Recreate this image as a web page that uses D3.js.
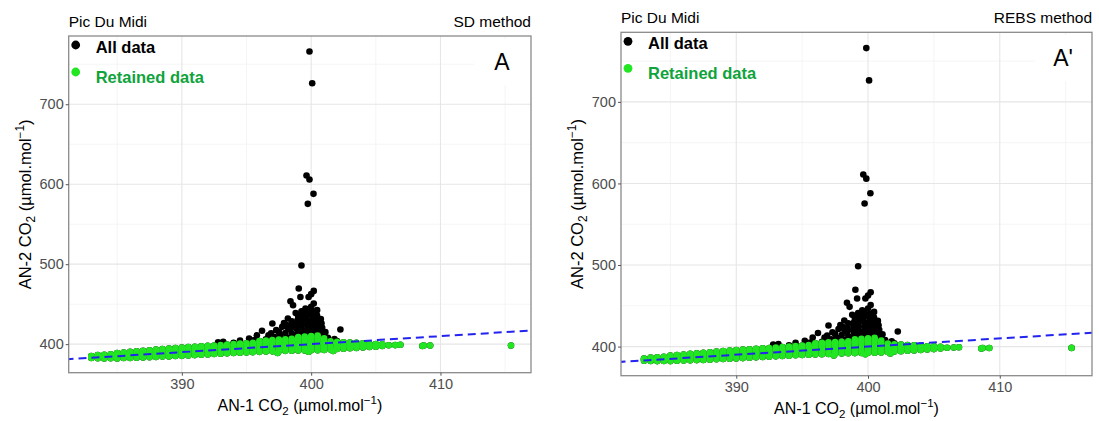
<!DOCTYPE html>
<html>
<head>
<meta charset="utf-8">
<script src="https://cdn.jsdelivr.net/npm/d3@7"></script>
<style>
  body { margin: 0; background: #fff; }
  svg { font-family: "Liberation Sans", Arial, sans-serif; }
</style>
</head>
<body>
<svg id="chart" width="1099" height="421"></svg>
<script>
// ---- data ----
const xTicks = [390, 400, 410];
const yTicks = [400, 500, 600, 700];
const xMinor = [385, 395, 405, 415];
const yMinor = [450, 550, 650, 750];
const xDomain = [381.25, 417.0];
const yDomain = [364.3, 785.3];
const refLine = [380, 418];   // 1:1 line, x = y

// points flagged out (black only)
const flaggedPts = [
  // outliers
  [399.87,765.9],[400.08,726.3],[399.64,610.9],[399.87,605.9],[400.18,587.9],[399.74,575.4],[399.25,498.4],
  // upper spine
  [399.04,469.6],[400.2,466.6],[400.0,462.5],[399.17,459.0],[399.8,459.0],[398.4,453.7],[400.2,450.9],
  [398.6,448.7],[400.0,446.7],[399.56,444.5],[400.46,442.5],[399.3,440.4],[398.8,439.0],[398.2,432.0],
  // left flank
  [397.0,425.9],[397.76,421.6],[396.2,416.7],[397.5,415.4],[398.4,418.0],[395.8,411.0],[396.7,411.0],
  [395.6,405.0],[394.0,401.6],[392.8,402.4],[393.2,403.0],[394.5,404.5],[395.2,407.0],[395.8,404.0],
  [396.5,406.0],[397.2,409.0],[397.8,406.5],[398.3,408.0],[398.5,413.0],[398.1,424.0],[398.5,428.5],
  [398.0,414.0],[397.6,411.0],[397.3,417.5],[398.2,420.5],[397.9,426.5],[396.9,413.5],[398.45,423.0],
  // right flank
  [402.26,418.4],[401.6,402.9],[401.3,408.0],[401.8,406.5],[402.0,404.0],[401.1,415.0],
  // dense core
  [398.9,410],[398.95,415],[398.85,420],[398.9,425.5],[398.95,430],[399.0,435],
  [399.3,409],[399.3,414.5],[399.25,420],[399.3,424.5],[399.35,430.5],[399.3,435.5],[399.25,441],
  [399.7,410.5],[399.65,415],[399.7,419.5],[399.75,425],[399.7,430],[399.65,436],[399.7,441.5],
  [400.1,409.5],[400.05,414],[400.1,420.5],[400.15,425.5],[400.1,431],[400.05,436.5],[400.1,440],
  [400.5,410],[400.45,415.5],[400.5,420],[400.55,425],[400.5,430.5],[400.45,436],
  [400.85,410.5],[400.8,415],[400.85,420.5],[400.8,426],[400.75,431.5],[400.9,406.5]
];

// retained points, by x column: [x, [y values]]
const retainedCols = [
  [383.0, [382.6, 384.0, 385.2]],
  [383.5, [382.4, 383.8, 385.2, 386.4]],
  [384.0, [382.2, 383.8, 385.4, 386.8]],
  [384.5, [382.4, 384.1, 385.8, 387.4]],
  [385.0, [382.2, 384.0, 385.8, 387.6, 389.0]],
  [385.5, [382.6, 384.4, 386.3, 388.2, 389.6]],
  [386.0, [382.8, 384.8, 386.8, 388.8, 390.3]],
  [386.5, [383.1, 385.2, 387.3, 389.4, 391.0]],
  [387.0, [383.4, 385.6, 387.8, 390.0, 391.7]],
  [387.5, [383.7, 386.0, 388.3, 390.6, 392.4]],
  [388.0, [384.0, 386.4, 388.8, 391.2, 393.1]],
  [388.5, [384.4, 386.9, 389.4, 391.8, 393.8]],
  [389.0, [384.7, 387.3, 389.9, 392.4, 394.5]],
  [389.5, [385.1, 387.8, 390.4, 393.0, 395.1]],
  [390.0, [385.4, 388.2, 390.9, 393.6, 395.8]],
  [390.5, [385.9, 388.7, 391.4, 394.1, 396.3]],
  [391.0, [386.3, 389.1, 391.9, 394.6, 396.8]],
  [391.5, [386.8, 389.6, 392.4, 395.1, 397.3]],
  [392.0, [387.2, 390.1, 392.9, 395.6, 397.8]],
  [392.5, [387.6, 390.5, 393.4, 396.1, 398.3]],
  [393.0, [388.0, 391.0, 393.9, 396.6, 398.9]],
  [393.5, [388.5, 391.5, 394.4, 397.1, 399.4]],
  [394.0, [388.9, 391.9, 394.8, 397.6, 400.0]],
  [394.5, [389.3, 392.3, 395.3, 398.1, 400.6]],
  [395.0, [389.7, 392.8, 395.8, 398.6, 401.2]],
  [395.5, [390.0, 393.2, 396.2, 399.2, 401.8]],
  [396.0, [390.4, 393.5, 396.6, 399.6, 402.4, 404.0]],
  [396.5, [390.7, 393.9, 397.0, 400.1, 403.0, 404.6]],
  [397.0, [391.0, 394.2, 397.4, 400.6, 403.4, 405.2]],
  [397.5, [391.3, 394.5, 397.7, 400.9, 403.8, 405.6]],
  [398.0, [391.6, 394.8, 398.0, 401.2, 404.2, 406.0]],
  [398.5, [391.8, 395.0, 398.3, 401.5, 404.6, 406.6]],
  [399.0, [392.0, 395.2, 398.5, 401.8, 405.0, 407.2, 408.8]],
  [399.5, [392.2, 395.4, 398.8, 402.1, 405.4, 407.8, 409.6]],
  [400.0, [392.4, 395.6, 399.0, 402.4, 405.6, 408.2, 410.2]],
  [400.5, [392.4, 395.7, 399.1, 402.5, 405.8, 408.6, 410.8]],
  [401.0, [392.6, 395.8, 399.1, 402.4, 405.2, 407.4]],
  [401.5, [393.4, 396.0, 398.8, 401.6, 403.6]],
  [402.0, [394.0, 396.3, 398.7, 401.0, 402.8]],
  [402.5, [394.4, 396.6, 398.7, 400.8, 402.4]],
  [403.0, [394.8, 396.8, 398.7, 400.6, 402.0]],
  [403.5, [395.2, 397.0, 398.7, 400.4, 401.6]],
  [404.0, [395.8, 397.4, 398.8, 400.2, 401.2]],
  [404.5, [396.4, 397.8, 399.0, 400.3]],
  [405.0, [396.9, 398.1, 399.3, 400.2]],
  [405.5, [397.6, 398.8, 399.8]]
];
// loose retained points
const retainedLoose = [
  [397.4, 389.0], [401.7, 391.5], [399.8, 390.6], [406.0, 398.6], [406.5, 398.8], [406.9, 399.2],
  [408.6, 397.6], [408.7, 398.3], [409.2, 398.2], [415.45, 398.4]
];

const panels = [
  { site: "Pic Du Midi", method: "SD method", tag: "A",
    x0: 68.7, x1: 531, y0: 36, y1: 372.7 },
  { site: "Pic Du Midi", method: "REBS method", tag: "A'",
    x0: 621, x1: 1092, y0: 32.3, y1: 375.7 }
];

// ---- build point lists ----
let retainedPts = [];
retainedCols.forEach(function (c) {
  c[1].forEach(function (y) { retainedPts.push([c[0], y]); });
});
retainedPts = retainedPts.concat(retainedLoose);
const allPts = flaggedPts.concat(retainedPts);

const svg = d3.select("#chart");
const black = "#000", green = "#22e622", legendGreen = "#0fa33c";
const ptR = 3.3;

function co2Label(sel, prefix) {
  sel.append("tspan").text(prefix + " CO");
  sel.append("tspan").attr("font-size", "0.72em").attr("dy", 4).text("2");
  sel.append("tspan").attr("dy", -4).text(" (\u00b5mol.mol");
  sel.append("tspan").attr("font-size", "0.72em").attr("dy", -7).text("\u22121");
  sel.append("tspan").attr("dy", 7).text(")");
}

panels.forEach(function (p, i) {
  const x = d3.scaleLinear().domain(xDomain).range([p.x0, p.x1]);
  const y = d3.scaleLinear().domain(yDomain).range([p.y1, p.y0]);
  const g = svg.append("g");

  g.append("clipPath").attr("id", "clip" + i)
    .append("rect").attr("x", p.x0).attr("y", p.y0)
    .attr("width", p.x1 - p.x0).attr("height", p.y1 - p.y0);

  // grid
  const grid = g.append("g");
  grid.selectAll(".vmin").data(xMinor).enter().append("line")
    .attr("x1", x).attr("x2", x).attr("y1", p.y0).attr("y2", p.y1)
    .attr("stroke", "#f2f2f2").attr("stroke-width", 0.8);
  grid.selectAll(".hmin").data(yMinor).enter().append("line")
    .attr("y1", y).attr("y2", y).attr("x1", p.x0).attr("x2", p.x1)
    .attr("stroke", "#f2f2f2").attr("stroke-width", 0.8);
  grid.selectAll(".vmaj").data(xTicks).enter().append("line")
    .attr("x1", x).attr("x2", x).attr("y1", p.y0).attr("y2", p.y1)
    .attr("stroke", "#e6e6e6").attr("stroke-width", 1.1);
  grid.selectAll(".hmaj").data(yTicks).enter().append("line")
    .attr("y1", y).attr("y2", y).attr("x1", p.x0).attr("x2", p.x1)
    .attr("stroke", "#e6e6e6").attr("stroke-width", 1.1);

  // tag box
  g.append("rect").attr("x", p.x1 - 57).attr("y", p.y0 + 3)
    .attr("width", 56).attr("height", 46).attr("fill", "#fff");
  g.append("text").attr("x", p.x1 - 29).attr("y", p.y0 + 34)
    .attr("text-anchor", "middle").attr("font-size", 23).text(p.tag);

  // points
  const pts = g.append("g").attr("clip-path", "url(#clip" + i + ")");
  pts.selectAll(".all").data(allPts).enter().append("circle")
    .attr("cx", function (d) { return x(d[0]); })
    .attr("cy", function (d) { return y(d[1]); })
    .attr("r", ptR).attr("fill", black);
  pts.selectAll(".ret").data(retainedPts).enter().append("circle")
    .attr("cx", function (d) { return x(d[0]); })
    .attr("cy", function (d) { return y(d[1]); })
    .attr("r", ptR).attr("fill", green);

  // 1:1 dashed line
  pts.append("line")
    .attr("x1", x(refLine[0])).attr("y1", y(refLine[0]))
    .attr("x2", x(refLine[1])).attr("y2", y(refLine[1]))
    .attr("stroke", "#2323f0").attr("stroke-width", 2)
    .attr("stroke-dasharray", "8,5");

  // border
  g.append("rect").attr("x", p.x0).attr("y", p.y0)
    .attr("width", p.x1 - p.x0).attr("height", p.y1 - p.y0)
    .attr("fill", "none").attr("stroke", "#8a8a8a").attr("stroke-width", 1.3);

  // axes
  const xAxis = g.append("g").attr("transform", "translate(0," + p.y1 + ")")
    .call(d3.axisBottom(x).tickValues(xTicks).tickSize(3).tickPadding(3));
  const yAxis = g.append("g").attr("transform", "translate(" + p.x0 + ",0)")
    .call(d3.axisLeft(y).tickValues(yTicks).tickSize(3).tickPadding(2));
  [xAxis, yAxis].forEach(function (a) {
    a.select(".domain").remove();
    a.selectAll("line").attr("stroke", "#555");
    a.selectAll("text").attr("fill", "#4d4d4d").attr("font-size", 14.5)
      .attr("font-family", "Liberation Sans, Arial, sans-serif");
  });

  // titles
  g.append("text").attr("x", p.x0).attr("y", p.y0 - 9)
    .attr("font-size", 15.5).text(p.site);
  g.append("text").attr("x", p.x1).attr("y", p.y0 - 9)
    .attr("text-anchor", "end").attr("font-size", 15.5).text(p.method);

  const xt = g.append("text").attr("x", (p.x0 + p.x1) / 2).attr("y", p.y1 + 38)
    .attr("text-anchor", "middle").attr("font-size", 16);
  co2Label(xt, "AN-1");
  const yt = g.append("text")
    .attr("transform", "translate(" + (p.x0 - 38) + "," + ((p.y0 + p.y1) / 2) + ") rotate(-90)")
    .attr("text-anchor", "middle").attr("font-size", 16.5);
  co2Label(yt, "AN-2");

  // legend
  const lg = g.append("g");
  lg.append("circle").attr("cx", p.x0 + 7).attr("cy", p.y0 + 9).attr("r", 4.4).attr("fill", black);
  lg.append("text").attr("x", p.x0 + 27).attr("y", p.y0 + 17)
    .attr("font-size", 16.5).attr("font-weight", "bold").attr("fill", black).text("All data");
  lg.append("circle").attr("cx", p.x0 + 7).attr("cy", p.y0 + 36).attr("r", 4.4).attr("fill", green);
  lg.append("text").attr("x", p.x0 + 27).attr("y", p.y0 + 47)
    .attr("font-size", 16.5).attr("font-weight", "bold").attr("fill", legendGreen).text("Retained data");
});
</script>
</body>
</html>
